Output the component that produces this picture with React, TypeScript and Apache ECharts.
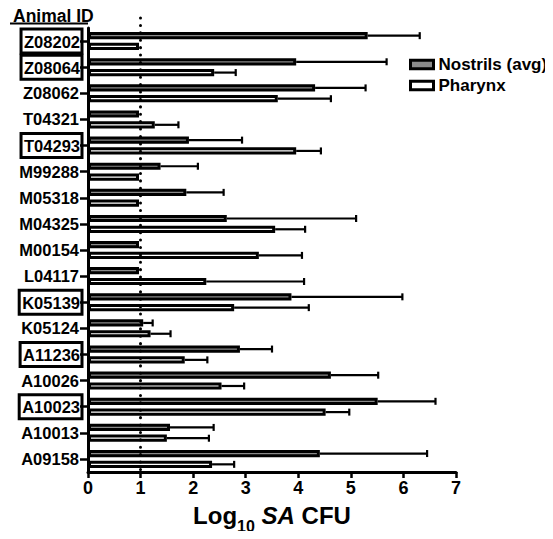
import React, { useEffect, useRef } from "react";
import * as echarts from "echarts";

const animalIds = [
  "Z08202", "Z08064", "Z08062", "T04321", "T04293", "M99288", "M05318", "M04325",
  "M00154", "L04117", "K05139", "K05124", "A11236", "A10026", "A10023", "A10013", "A09158",
];
const boxedIds = ["Z08202", "Z08064", "T04293", "K05139", "A11236", "A10023"];

const nostrilsMean = [5.32, 3.96, 4.32, 0.97, 1.92, 1.38, 1.87, 2.64, 0.97, 0.97, 3.87, 1.05, 2.89, 4.62, 5.51, 1.56, 4.41];
const nostrilsErr = [0.99, 1.72, 0.96, 0, 1.01, 0.71, 0.71, 2.46, 0, 0, 2.11, 0.18, 0.61, 0.9, 1.1, 0.83, 2.04];
const pharynxMean = [0.97, 2.4, 3.61, 1.27, 3.96, 0.97, 0.97, 3.56, 3.25, 2.25, 2.78, 1.19, 1.84, 2.54, 4.52, 1.5, 2.36];
const pharynxErr = [0, 0.41, 1.01, 0.45, 0.47, 0, 0, 0.57, 0.82, 1.86, 1.42, 0.38, 0.43, 0.43, 0.45, 0.8, 0.42];

const xTicks = [0, 1, 2, 3, 4, 5, 6, 7];
const detectionLimit = 1;

const FONT = "'Liberation Sans', Arial, Helvetica, sans-serif";

export default function App() {
  const ref = useRef<HTMLDivElement>(null);

  useEffect(() => {
    if (!ref.current) return;
    const chart = echarts.init(ref.current, undefined, { renderer: "svg" });

    const BAR_W = 7.2;
    const OFFSET = 5.4;

    const errData = (means: number[], errs: number[]) =>
      means
        .map((m, i) => (errs[i] > 0 ? [i, m, m + errs[i]] : null))
        .filter((d) => d !== null);

    const makeErrSeries = (name: string, data: any[], offset: number) => ({
      type: "custom",
      name: name + " err",
      data,
      encode: { x: [1, 2], y: 0 },
      z: 1,
      silent: true,
      renderItem: (params: any, api: any) => {
        const cat = api.value(0);
        const p0 = api.coord([api.value(1), cat]);
        const p1 = api.coord([api.value(2), cat]);
        const y = p0[1] + offset;
        const st = { stroke: "#000", lineWidth: 2.2 };
        return {
          type: "group",
          children: [
            { type: "line", shape: { x1: p0[0], y1: y, x2: p1[0], y2: y }, style: st },
            { type: "line", shape: { x1: p1[0], y1: y - 3.5, x2: p1[0], y2: y + 3.5 }, style: st },
          ],
        };
      },
    });

    const option: any = {
      animation: false,
      textStyle: { fontFamily: FONT, color: "#000" },
      title: {
        text: "Animal ID",
        left: 8,
        top: 2,
        textStyle: { fontFamily: FONT, fontWeight: "bold", fontSize: 17.5, color: "#000" },
      },
      graphic: [
        {
          type: "line",
          shape: { x1: 10, y1: 23.5, x2: 88, y2: 23.5 },
          style: { stroke: "#000", lineWidth: 2 },
        },
      ],
      legend: {
        orient: "vertical",
        left: 404,
        top: 51,
        itemWidth: 23,
        itemHeight: 8.5,
        itemGap: 4,
        icon: "rect",
        data: ["Nostrils (avg)", "Pharynx"],
        itemStyle: { borderWidth: 3, borderColor: "#000" },
        textStyle: { fontFamily: FONT, fontWeight: "bold", fontSize: 17, color: "#000" },
      },
      grid: { left: 88, right: 97, top: 28, bottom: 62, containLabel: false },
      xAxis: {
        type: "value",
        min: 0,
        max: 7,
        interval: 1,
        splitLine: { show: false },
        axisLine: { show: true, lineStyle: { color: "#000", width: 3 } },
        axisTick: { show: true, length: 6, lineStyle: { color: "#000", width: 2.5 } },
        axisLabel: {
          fontFamily: FONT,
          fontWeight: "bold",
          fontSize: 18,
          color: "#000",
          margin: 7,
          formatter: (v: number) => (xTicks.includes(v) ? String(v) : ""),
        },
        name: "{a|Log}{sub|10}{a| }{i|SA}{a| CFU}",
        nameLocation: "middle",
        nameGap: 25,
        nameTextStyle: {
          rich: {
            a: { fontFamily: FONT, fontWeight: "bold", fontSize: 24, color: "#000", lineHeight: 37 },
            i: { fontFamily: FONT, fontWeight: "bold", fontStyle: "italic", fontSize: 24, color: "#000", lineHeight: 37 },
            sub: { fontFamily: FONT, fontWeight: "bold", fontSize: 16, color: "#000", verticalAlign: "bottom" },
          },
        },
      },
      yAxis: {
        type: "category",
        data: animalIds,
        inverse: true,
        axisLine: { show: true, lineStyle: { color: "#000", width: 3 } },
        axisTick: { show: true, alignWithLabel: true, interval: 0, length: 8, lineStyle: { color: "#000", width: 2.5 } },
        axisLabel: {
          margin: 6,
          interval: 0,
          showMinLabel: true,
          showMaxLabel: true,
          hideOverlap: false,
          formatter: (v: string) => (boxedIds.includes(v) ? `{box|${v}}` : `{plain|${v}}`),
          rich: {
            box: {
              fontFamily: FONT,
              fontWeight: "bold",
              fontSize: 16.5,
              color: "#000",
              borderColor: "#000",
              borderWidth: 3,
              padding: [4, 2, 3, 3],
            },
            plain: {
              fontFamily: FONT,
              fontWeight: "bold",
              fontSize: 16.5,
              color: "#000",
              padding: [0, 3, 0, 0],
            },
          },
        },
      },
      series: [
        {
          type: "bar",
          name: "Nostrils (avg)",
          data: nostrilsMean,
          barWidth: BAR_W,
          barGap: "50%",
          z: 2,
          itemStyle: { color: "#8a8a8a", borderColor: "#000", borderWidth: 3 },
          markLine: {
            silent: true,
            symbol: "none",
            label: { show: false },
            lineStyle: { color: "#000", width: 3, type: [0.1, 7.3], cap: "round" },
            data: [
              [
                { coord: [detectionLimit, animalIds[0]], y: 18 },
                { coord: [detectionLimit, animalIds[animalIds.length - 1]], y: 476 },
              ],
            ],
          },
        },
        {
          type: "bar",
          name: "Pharynx",
          data: pharynxMean,
          barWidth: BAR_W,
          barGap: "50%",
          z: 2,
          itemStyle: { color: "#ffffff", borderColor: "#000", borderWidth: 3 },
        },
        makeErrSeries("Nostrils (avg)", errData(nostrilsMean, nostrilsErr), -OFFSET),
        makeErrSeries("Pharynx", errData(pharynxMean, pharynxErr), OFFSET),
      ],
    };

    chart.setOption(option);
    return () => chart.dispose();
  }, []);

  return <div ref={ref} style={{ width: 553, height: 539, margin: -8 }} />;
}
